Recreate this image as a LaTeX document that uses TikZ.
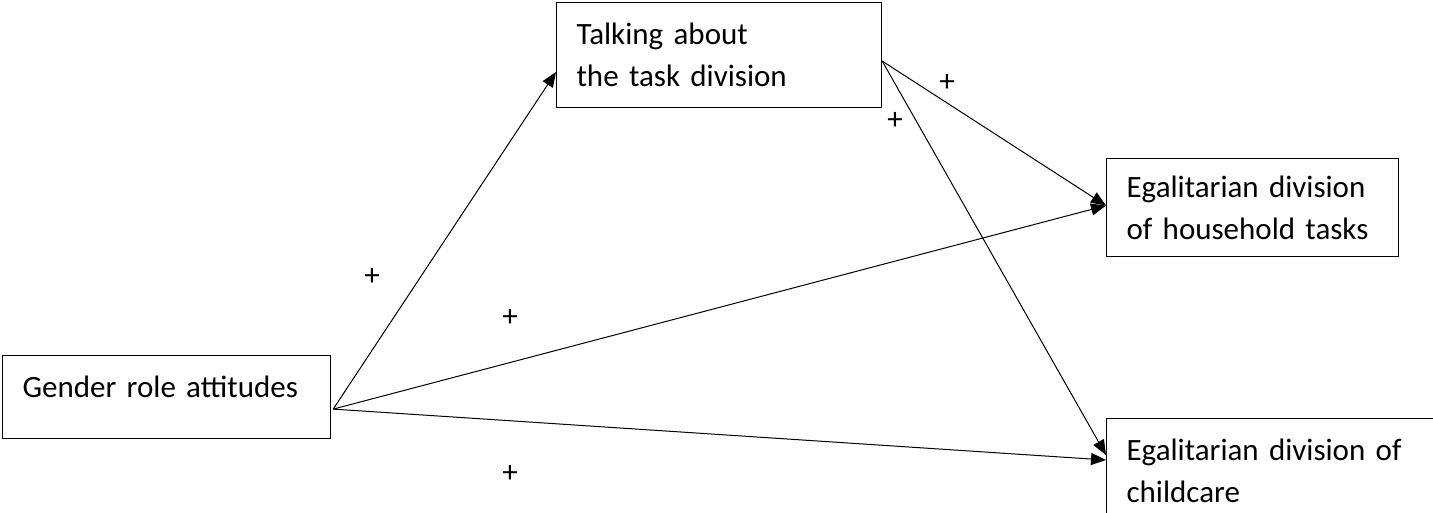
\documentclass[tikz,border=0pt]{standalone}
\usepackage{fontspec}
\setmainfont{Carlito}
\usetikzlibrary{arrows.meta}
\begin{document}
\begin{tikzpicture}[x=1pt,y=-1pt,
  box/.style={draw, line width=1.2pt, anchor=north west, align=left, inner xsep=20pt, inner ysep=0pt,
    font=\fontsize{31}{42}\selectfont},
  arr/.style={line width=1pt, -{Triangle[length=15pt,width=12pt]}},
  plus/.style={font=\fontsize{31}{34}\selectfont, inner sep=0pt}]
\useasboundingbox (0,0) rectangle (1433,513);
\node[box, minimum width=328pt, minimum height=83pt, text width=288pt, text height=22pt, text depth=22pt] (g) at (2,355) {Gender role attitudes};
\node[box, minimum width=325pt, minimum height=105pt, text width=285pt] (t) at (556,2) {Talking about\\the task division};
\node[box, minimum width=292pt, minimum height=98pt, text width=252pt, inner xsep=20pt] (h) at (1106,158) {Egalitarian division\\of household tasks};
\node[box, minimum width=340pt, minimum height=105pt, text width=300pt] (c) at (1106,418) {Egalitarian division of\\childcare};
\coordinate (gs) at ([xshift=2pt,yshift=-12pt]g.east);
\coordinate (ts) at ([yshift=-6pt]t.east);
\draw[arr] (gs) -- ([yshift=-70pt]t.north west);
\draw[arr] (gs) -- ([yshift=2pt]h.west);
\draw[arr] (gs) -- ([yshift=-42pt]c.north west);
\draw[arr] (ts) -- ([yshift=2pt]h.west);
\draw[arr] (ts) -- ([yshift=-37pt]c.north west);
\node[plus] (p1) at (372,277) {+};
\node[plus] (p2) at (510,318) {+};
\node[plus] (p3) at (510,474) {+};
\node[plus] (p4) at (947,83) {+};
\node[plus] (p5) at (895,121) {+};
\end{tikzpicture}
\end{document}
